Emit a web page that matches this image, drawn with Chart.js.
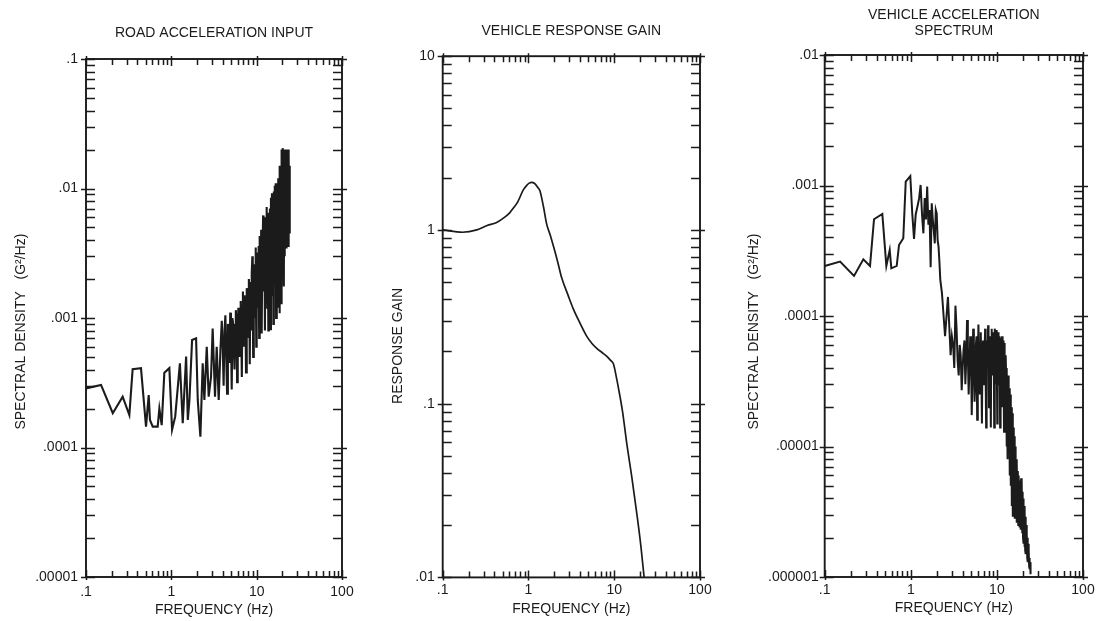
<!DOCTYPE html>
<html>
<head>
<meta charset="utf-8">
<script src="https://cdn.jsdelivr.net/npm/chart.js@4.4.1/dist/chart.umd.min.js"></script>
<style>
html,body{margin:0;padding:0;background:#fff;}
#wrap{position:relative;width:1104px;height:621px;overflow:hidden;background:#fff;}
canvas{position:absolute;top:0;}
</style>
</head>
<body>
<div id="wrap">
<canvas id="c1" width="368" height="621" style="left:0px"></canvas>
<canvas id="c2" width="366" height="621" style="left:368px"></canvas>
<canvas id="c3" width="370" height="621" style="left:734px"></canvas>
</div>
<script>
// ---------- data ----------
const freqTicks = [0.1, 1, 10, 100];
const freqTickLabels = ['.1', '1', '10', '100'];

const roadTicks = [0.00001, 0.0001, 0.001, 0.01, 0.1];
const roadTickLabels = ['.00001', '.0001', '.001', '.01', '.1'];

const gainTicks = [0.01, 0.1, 1, 10];
const gainTickLabels = ['.01', '.1', '1', '10'];

const accelTicks = [0.000001, 0.00001, 0.0001, 0.001, 0.01];
const accelTickLabels = ['.000001', '.00001', '.0001', '.001', '.01'];

// Road acceleration input PSD (G^2/Hz)
const roadFreq = [
  0.1,0.15,0.206,0.269,0.322, 0.352,0.441,0.505,0.543,0.562,
  0.605,0.692,0.724,0.771,0.828, 0.948,1.02,1.11,1.26,1.36,
  1.49,1.56,1.63,1.75,1.95, 2.04,2.19,2.33,2.44,2.6,
  2.74,2.92,3.05,3.25,3.4, 3.59,3.76,
  3.9,4.1,4.3,4.5,4.7, 4.9,5.1,5.3,5.5,5.7, 5.9,6.1,6.3,6.5,6.7,
  6.9,7.1,7.3,7.5,7.7, 7.9,8.1,8.3,8.5,8.7, 8.9,9.1,9.3,9.5,9.7,
  9.9,10.1,10.3,10.5,10.7, 10.9,11.1,11.3,11.5,11.7, 11.9,12.1,12.3,12.5,12.7,
  12.9,13.1,13.3,13.5,13.7, 13.9,14.1,14.3,14.5,14.7, 14.9,15.1,15.3,15.5,15.7,
  15.9,16.1,16.3,16.5,16.7, 16.9,17.1,17.3,17.5,17.7, 17.9,18.1,18.3,18.5,18.7,
  18.9,19.1,19.3,19.5,19.7, 19.9,20.1,20.3,20.5,20.7, 20.9,21.1,21.3,21.5,21.7,
  21.9,22.1,22.3,22.5,22.7, 22.9,23.1,23.3,23.5,23.7, 23.9,24.1,24.3,24.5
];
const roadPsd = [
  2.86e-4,3.04e-4,1.84e-4,2.47e-4,1.78e-4, 4.02e-4,4.1e-4,1.45e-4,2.54e-4,1.63e-4,
  1.45e-4,1.45e-4,2.0e-4,1.49e-4,3.78e-4, 4.1e-4,1.37e-4,1.73e-4,4.47e-4,1.54e-4,
  5.03e-4,1.63e-4,2.33e-4,6.76e-4,6.97e-4, 2.33e-4,1.21e-4,4.47e-4,2.33e-4,6.0e-4,
  2.47e-4,3.52e-4,8.3e-4,2.47e-4,6.0e-4, 2.33e-4,5.66e-4,
  9.5e-4,3.0e-4,1.05e-3,2.6e-4,7.5e-4, 1.1e-3,2.8e-4,9.0e-4,4.0e-4,1.15e-3, 3.2e-4,1.2e-3,5.0e-4,1.35e-3,3.5e-4,
  1.6e-3,6.0e-4,1.3e-3,3.8e-4,1.7e-3, 7.0e-4,2.0e-3,4.4e-4,1.9e-3,8.0e-4, 3.0e-3,5.0e-4,2.6e-3,1.0e-3,3.5e-3,
  6.0e-4,3.2e-3,1.2e-3,3.6e-3,7.0e-4, 4.3e-3,1.4e-3,4.8e-3,7.6e-4,4.0e-3, 6.2e-3,1.6e-3,5.5e-3,8.0e-4,6.0e-3,
  2.0e-3,7.2e-3,1.2e-3,6.5e-3,8.0e-4, 5.5e-3,2.2e-3,7.0e-3,8.2e-4,8.5e-3, 2.5e-3,9.2e-3,1.5e-3,8.0e-3,9.0e-4,
  9.5e-3,2.8e-3,1.05e-2,1.8e-3,1.1e-2, 1.0e-3,1.05e-2,3.0e-3,1.1e-2,1.2e-3, 1.2e-2,2.5e-3,1.1e-2,1.09e-3,1.5e-2,
  3.5e-3,1.3e-2,1.3e-3,2.0e-2,4.0e-3, 1.9e-2,2.0e-3,2.05e-2,5.0e-3,1.8e-2, 1.75e-3,2.0e-2,3.0e-3,1.9e-2,6.0e-3,
  2.0e-2,3.5e-3,1.95e-2,5.0e-3,2.0e-2, 4.0e-3,1.9e-2,3.6e-3,2.0e-2,6.0e-3, 1.8e-2,5.0e-3,1.5e-2,4.5e-3
];
const roadFreqFill = [
  4.0,4.2,4.4,4.6,4.8, 5.0,5.2,5.4,5.6,5.8, 6.0,6.2,6.4,6.6,6.8, 7.0,7.2,7.4,7.6,7.8,
  8.0,8.2,8.4,8.6,8.8, 9.0,9.2,9.4,9.6,9.8, 10.0,10.2,10.4,10.6,10.8, 11.0,11.2,11.4,11.6,11.8, 12.0
];
const roadPsdFill = [
  6.0e-4,8.0e-4,5.0e-4,9.0e-4,4.5e-4, 7.0e-4,1.0e-3,6.0e-4,8.0e-4,9.5e-4, 7.0e-4,9.0e-4,1.1e-3,8.0e-4,1.2e-3,
  9.0e-4,1.5e-3,1.0e-3,1.2e-3,1.4e-3, 1.1e-3,1.5e-3,1.3e-3,1.1e-3,2.2e-3, 1.5e-3,2.0e-3,1.6e-3,2.2e-3,2.8e-3,
  1.8e-3,2.4e-3,2.0e-3,2.6e-3,2.2e-3, 3.0e-3,2.5e-3,3.2e-3,2.4e-3,3.6e-3, 3.0e-3
];

// Vehicle response gain
const gainFreq = [
  0.1,0.17,0.25,0.33,0.42, 0.51,0.6,0.67,0.75,0.87,
  0.95,1.02,1.09,1.18,1.28, 1.36,1.5,1.63,1.8,1.95,
  2.2,2.44,2.9,3.34,4.0, 4.79,5.5,6.26,7.2,8.2,
  9.0,9.8,10.5,11.2,12.5, 14.0,16,18.4,20.5,22.3
];
const gainValue = [
  1.0,0.97,1.0,1.06,1.1, 1.17,1.25,1.34,1.45,1.70,
  1.80,1.86,1.88,1.85,1.76, 1.68,1.35,1.08,0.93,0.81,
  0.65,0.53,0.42,0.35,0.29, 0.244,0.222,0.208,0.197,0.187,
  0.178,0.169,0.145,0.123,0.09, 0.059,0.038,0.023,0.015,0.0100
];

// Vehicle acceleration spectrum (G^2/Hz)
const accelFreq = [
  0.1,0.151,0.219,0.281,0.336, 0.374,0.467,0.52,0.569,0.594,
  0.686,0.73,0.818,0.873,0.987, 1.04,1.09,1.14,1.2,1.25,
  1.3,1.35,1.4,1.45,1.5, 1.55,1.6,1.65,1.7,1.75,
  1.8,1.85,1.9,1.95,2.0, 2.05,2.1,2.15,2.2,
  2.3,2.5,2.7,2.9,3.1, 3.3,3.5,3.7,3.9,4.1, 4.3,4.5,4.7,4.9,5.1,
  5.3,5.5,5.7,5.9,6.1, 6.3,6.5,6.7,6.9,7.1, 7.3,7.5,7.7,7.9,8.1,
  8.3,8.5,8.7,8.9,9.1, 9.3,9.5,9.7,9.9,10.1, 10.3,10.5,10.7,10.9,11.1,
  11.3,11.5,11.7,11.9,12.1, 12.3,12.5,12.7,12.9,13.1, 13.3,13.5,13.7,13.9,14.1,
  14.3,14.5,14.7,14.9,15.1, 15.3,15.5,15.7,15.9,16.1, 16.3,16.5,16.7,16.9,17.1,
  17.3,17.5,17.7,17.9,18.1, 18.3,18.5,18.7,18.9,19.1, 19.3,19.5,19.7,19.9,20.1,
  20.3,20.5,20.7,20.9,21.1, 21.3,21.5,21.7,21.9,22.1, 22.3,22.5,22.7,22.9,23.1,
  23.3,23.5,23.7,23.9,24.1, 24.3,24.5,24.7
];
const accelPsd = [
  2.42e-4,2.61e-4,2.03e-4,2.72e-4,2.42e-4, 5.51e-4,6.05e-4,2.42e-4,3.2e-4,2.32e-4,
  2.42e-4,3.5e-4,3.94e-4,1.07e-3,1.18e-3, 6.1e-4,3.9e-4,6.0e-4,7.0e-4,8.0e-4,
  1.01e-3,6.0e-4,4.3e-4,8.0e-4,5.5e-4, 9.8e-4,5.0e-4,6.5e-4,2.36e-4,7.3e-4,
  5.5e-4,4.5e-4,3.6e-4,6.5e-4,6.1e-4, 3.8e-4,3.4e-4,2.6e-4,1.9e-4,
  1.5e-4,7.0e-5,1.4e-4,5.0e-5,6.0e-5, 1.2e-4,4.5e-5,6.0e-5,2.7e-5,5.5e-5, 3.0e-5,9.3e-5,2.5e-5,7.0e-5,1.74e-5,
  8.0e-5,2.2e-5,6.0e-5,1.6e-5,8.6e-5, 2.5e-5,7.5e-5,1.5e-5,6.5e-5,3.0e-5, 8.0e-5,1.4e-5,5.5e-5,8.5e-5,2.0e-5,
  7.0e-5,1.4e-5,8.0e-5,3.5e-5,7.5e-5, 1.4e-5,8.0e-5,3.0e-5,7.8e-5,1.5e-5, 7.5e-5,4.0e-5,7.0e-5,1.4e-5,6.8e-5,
  3.5e-5,7.0e-5,2.0e-5,6.5e-5,1.3e-5, 6.2e-5,2.5e-5,5.0e-5,1.0e-5,4.0e-5, 8.0e-6,3.5e-5,1.2e-5,2.8e-5,6.0e-6,
  2.5e-5,5.0e-6,2.0e-5,3.5e-6,1.8e-5, 2.9e-6,1.4e-5,4.0e-6,1.2e-5,2.8e-6, 1.0e-5,3.0e-6,8.0e-6,2.6e-6,7.5e-6,
  3.0e-6,6.5e-6,2.5e-6,6.0e-6,2.8e-6, 5.5e-6,2.4e-6,5.0e-6,2.3e-6,5.7e-6, 2.5e-6,5.5e-6,2.2e-6,4.5e-6,2.0e-6,
  4.0e-6,1.8e-6,3.5e-6,1.7e-6,3.2e-6, 1.6e-6,2.9e-6,1.5e-6,2.5e-6,1.5e-6, 2.2e-6,1.4e-6,2.0e-6,1.3e-6,1.8e-6,
  1.3e-6,1.6e-6,1.2e-6,1.4e-6,1.15e-6, 1.3e-6,1.1e-6,1.05e-6
];
const accelFreqFill = [
  3.0,3.2,3.4,3.6,3.8, 4.0,4.2,4.4,4.6,4.8, 5.0,5.2,5.4,5.6,5.8, 6.0,6.2,6.4,6.6,6.8,
  7.0,7.2,7.4,7.6,7.8, 8.0,8.2,8.4,8.6,8.8, 9.0,9.2,9.4,9.6,9.8, 10.0,10.2,10.4,10.6,10.8,
  11.0,11.2,11.4,11.6,11.8, 12.0,12.2,12.4,12.6,12.8, 13.0
];
const accelPsdFill = [
  7.0e-5,4.0e-5,8.0e-5,3.5e-5,5.0e-5, 4.0e-5,6.5e-5,4.5e-5,5.0e-5,4.0e-5, 5.5e-5,3.5e-5,5.0e-5,3.0e-5,7.0e-5,
  4.0e-5,5.0e-5,4.5e-5,3.5e-5,5.0e-5, 4.5e-5,5.5e-5,3.5e-5,6.5e-5,4.0e-5, 5.0e-5,4.5e-5,3.5e-5,5.5e-5,5.0e-5,
  4.0e-5,6.0e-5,5.0e-5,5.5e-5,4.5e-5, 6.0e-5,5.0e-5,6.5e-5,3.0e-5,6.0e-5, 4.5e-5,5.0e-5,6.0e-5,4.0e-5,5.5e-5,
  3.5e-5,5.0e-5,4.0e-5,3.0e-5,3.5e-5, 2.5e-5
];

// ---------- drawing ----------
const INK = '#1b1b1b';
const FONT = '"Liberation Sans", Arial, sans-serif';

function labelFor(v, vals, labels) {
  const i = vals.findIndex(t => Math.abs(t - v) / t < 1e-6);
  return i >= 0 ? labels[i] : '';
}

// merge a main series with its extra lines into one frequency-ordered table
function table(fA, vA, fB, vB) {
  const rows = fA.map((f, i) => ({ x: f, y: vA[i] }));
  if (fB) fB.forEach((f, i) => rows.push({ x: f, y: vB[i] }));
  return rows.sort((a, b) => a.x - b.x);
}

function logSteps(min, max) {
  const out = [];
  const e0 = Math.round(Math.log10(min)), e1 = Math.round(Math.log10(max));
  for (let e = e0; e < e1; e++) {
    for (let k = 1; k <= 9; k++) out.push({ v: k * Math.pow(10, e), major: k === 1 });
  }
  out.push({ v: Math.pow(10, e1), major: true });
  return out;
}

const frameTicks = {
  id: 'frameTicks',
  afterDraw(chart) {
    const { ctx, chartArea: a, scales } = chart;
    const xs = scales.x, ys = scales.y;
    ctx.save();
    ctx.strokeStyle = INK;
    ctx.lineWidth = 1.5;
    ctx.beginPath();
    for (const t of logSteps(xs.min, xs.max)) {
      const p = Math.round(xs.getPixelForValue(t.v)) + 0.5;
      const inn = t.major ? 7 : 6, out = t.major ? 3 : 0;
      ctx.moveTo(p, a.bottom - inn); ctx.lineTo(p, a.bottom + out);
      ctx.moveTo(p, a.top + inn); ctx.lineTo(p, a.top - out);
    }
    for (const t of logSteps(ys.min, ys.max)) {
      const p = Math.round(ys.getPixelForValue(t.v)) + 0.5;
      const inn = 9, out = t.major ? 5 : 0;
      ctx.moveTo(a.left - out, p); ctx.lineTo(a.left + inn, p);
      ctx.moveTo(a.right + out, p); ctx.lineTo(a.right - inn, p);
    }
    ctx.stroke();
    ctx.lineWidth = 1.9;
    ctx.strokeRect(a.left, a.top, a.right - a.left, a.bottom - a.top);
    ctx.restore();
  }
};

function buildPanel(canvasId, p) {
  return new Chart(document.getElementById(canvasId), {
    type: 'line',
    data: {
      datasets: [{
        data: p.rows,
        borderColor: INK,
        borderWidth: p.lw,
        pointRadius: 0,
        fill: false,
        tension: 0,
        cubicInterpolationMode: p.smooth ? 'monotone' : 'default'
      }]
    },
    options: {
      responsive: false,
      animation: false,
      events: [],
      layout: { padding: p.pad },
      plugins: {
        legend: { display: false },
        tooltip: { enabled: false },
        title: {
          display: true, text: p.title, color: INK, fullSize: false,
          font: { family: FONT, size: 14, weight: 'normal', lineHeight: p.titleLH },
          padding: p.titlePad
        }
      },
      scales: {
        x: {
          type: 'logarithmic', position: 'bottom', min: 0.1, max: 100,
          grid: { display: false, drawTicks: false },
          border: { display: false },
          afterBuildTicks: s => { s.ticks = freqTicks.map(v => ({ value: v })); },
          afterFit: s => { s.height = p.xH; },
          ticks: {
            autoSkip: false, maxRotation: 0, minRotation: 0, padding: p.xTickPad, color: INK,
            font: { family: FONT, size: 14, lineHeight: 1.2 },
            callback: v => labelFor(v, freqTicks, freqTickLabels)
          },
          title: {
            display: true, text: 'FREQUENCY (Hz)', color: INK,
            font: { family: FONT, size: 14, lineHeight: 1.2 },
            padding: { top: 0, bottom: p.xTitlePad }
          }
        },
        y: {
          type: 'logarithmic', position: 'left', min: p.yTicks[0], max: p.yTicks[p.yTicks.length - 1],
          grid: { display: false, drawTicks: false },
          border: { display: false },
          afterBuildTicks: s => { s.ticks = p.yTicks.map(v => ({ value: v })); },
          afterFit: s => { s.width = p.yW; },
          ticks: {
            autoSkip: false, padding: p.yTickPad, color: INK,
            font: { family: FONT, size: 14, lineHeight: 1.2 },
            callback: v => labelFor(v, p.yTicks, p.yLabels)
          },
          title: {
            display: true, text: p.yTitle, color: INK,
            font: { family: FONT, size: 14, lineHeight: 1.2 },
            padding: { top: p.yTitlePad, bottom: 0 }
          }
        }
      }
    },
    plugins: [frameTicks]
  });
}

buildPanel('c1', {
  rows: table(roadFreq, roadPsd, roadFreqFill, roadPsdFill), lw: 2.1, smooth: false,
  yTicks: roadTicks, yLabels: roadTickLabels,
  title: 'ROAD ACCELERATION INPUT', titleLH: 1.2, titlePad: { top: 24.6, bottom: 17.6 },
  yTitle: 'SPECTRAL DENSITY   (G²/Hz)       ',
  pad: { left: 0, right: 26, top: 0, bottom: 0 },
  yW: 86, xH: 44, xTickPad: 6.6, xTitlePad: 2.6, yTickPad: 8, yTitlePad: 12.6
});

buildPanel('c2', {
  rows: table(gainFreq, gainValue), lw: 1.7, smooth: true,
  yTicks: gainTicks, yLabels: gainTickLabels,
  title: 'VEHICLE RESPONSE GAIN', titleLH: 1.2, titlePad: { top: 22.6, bottom: 16.8 },
  yTitle: 'RESPONSE GAIN               ',
  pad: { left: 0, right: 34, top: 0, bottom: 0 },
  yW: 74.7, xH: 43.6, xTickPad: 4.2, xTitlePad: 3.6, yTickPad: 8, yTitlePad: 21.6
});

buildPanel('c3', {
  rows: table(accelFreq, accelPsd, accelFreqFill, accelPsdFill), lw: 2.0, smooth: false,
  yTicks: accelTicks, yLabels: accelTickLabels,
  title: ['VEHICLE ACCELERATION', 'SPECTRUM'], titleLH: 16 / 14, titlePad: { top: 7, bottom: 16 },
  yTitle: 'SPECTRAL DENSITY   (G²/Hz)        ',
  pad: { left: 0, right: 21, top: 0, bottom: 0 },
  yW: 90.7, xH: 44, xTickPad: 4.6, xTitlePad: 4.6, yTickPad: 6, yTitlePad: 11.6
});
</script>
</body>
</html>
